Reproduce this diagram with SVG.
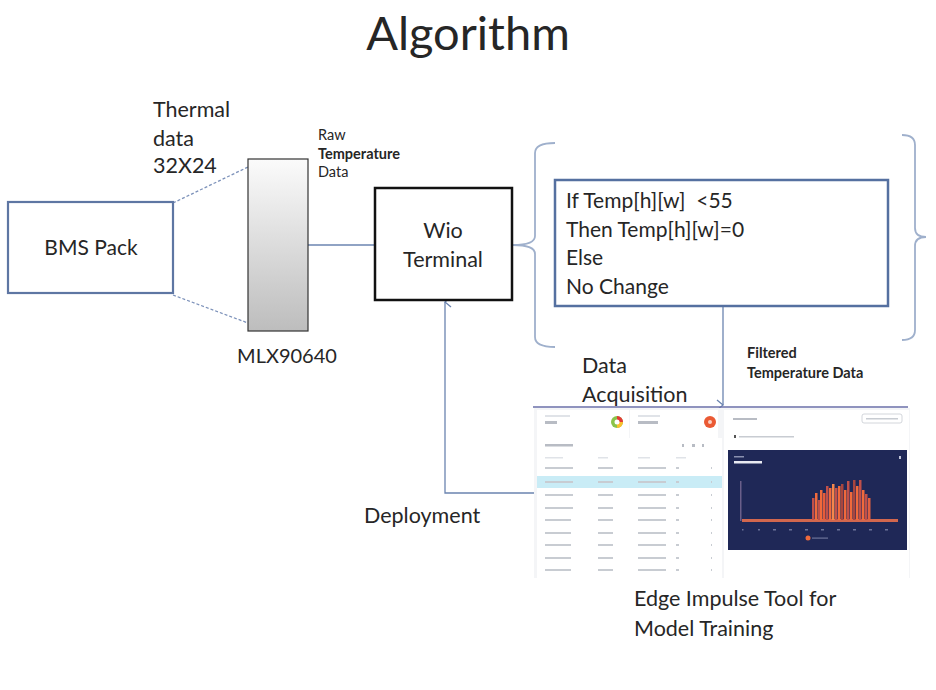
<svg xmlns="http://www.w3.org/2000/svg" width="936" height="690" viewBox="0 0 936 690">
<defs>
  <linearGradient id="mlxg" x1="0" y1="0" x2="0" y2="1">
    <stop offset="0" stop-color="#fbfbfb"/>
    <stop offset="1" stop-color="#bdbdbd"/>
  </linearGradient>
  <marker id="openArrow" viewBox="0 0 12 12" refX="6" refY="1" markerWidth="12" markerHeight="12" orient="auto-start-reverse" markerUnits="userSpaceOnUse">
    <path d="M1,7 L6,1 L11,7" fill="none" stroke="#6b84b0" stroke-width="1.3"/>
  </marker>
</defs>
<style>
  .t { font-family: Lato, "Liberation Sans", sans-serif; fill: #262626; }
  .lbl { font-size: 21.5px; }
  .sm { font-size: 14.5px; }
  .b { font-weight: bold; }
  .conn { fill: none; stroke: #6b84b0; stroke-width: 1.3; }
  .brace { fill: none; stroke: #9fb0cc; stroke-width: 1.8; }
  .bar { fill: #e0e3e8; }
</style>
<rect width="936" height="690" fill="#ffffff"/>

<text class="t" x="468" y="50" font-size="47" text-anchor="middle" fill="#111">Algorithm</text>

<g id="connectors">
  <line x1="173" y1="203" x2="248" y2="167" stroke="#7d92ba" stroke-width="1.3" stroke-dasharray="3,2"/>
  <line x1="173" y1="295" x2="248" y2="323" stroke="#7d92ba" stroke-width="1.3" stroke-dasharray="3,2"/>
  <line class="conn" x1="308" y1="245" x2="375" y2="245"/>
  <line class="conn" x1="723" y1="306" x2="723" y2="405" marker-end="url(#openArrow)"/>
  <polyline class="conn" points="535,493 445,493 445,302" marker-end="url(#openArrow)"/>
  <path class="brace" d="M555,143 Q535,143 535,153 L535,236 Q535,245 513,245 Q535,245 535,254 L535,337 Q535,347 555,347"/>
  <path class="brace" d="M902,135 Q915,135 915,145 L915,228 Q915,237 926,237 Q915,237 915,246 L915,330 Q915,340 902,340"/>
</g>

<g id="thermal-label">
  <text class="t lbl" x="153" y="117">Thermal</text>
  <text class="t lbl" x="153" y="146">data</text>
  <text class="t lbl" x="153" y="173">32X24</text>
</g>

<g id="bms-pack">
  <rect x="8" y="202" width="165" height="91" fill="#fff" stroke="#5e76a3" stroke-width="2.2"/>
  <text class="t" x="91" y="255" font-size="21" text-anchor="middle">BMS Pack</text>
</g>

<g id="mlx90640">
  <rect x="248" y="159" width="60" height="172" fill="url(#mlxg)" stroke="#333" stroke-width="1.2"/>
  <text class="t" x="287" y="363" font-size="20" text-anchor="middle">MLX90640</text>
</g>

<g id="raw-label">
  <text class="t sm" x="318" y="140">Raw</text>
  <text class="t sm b" x="318" y="159">Temperature</text>
  <text class="t sm" x="318" y="177">Data</text>
</g>

<g id="wio-terminal">
  <rect x="375" y="188" width="137" height="112" fill="#fff" stroke="#111" stroke-width="2.5"/>
  <text class="t lbl" x="443" y="238" text-anchor="middle">Wio</text>
  <text class="t lbl" x="443" y="267" text-anchor="middle">Terminal</text>
</g>

<g id="condition">
  <rect x="555" y="180" width="333" height="126" fill="#fff" stroke="#5570a0" stroke-width="2.5"/>
  <text class="t" font-size="21" x="566" y="208" xml:space="preserve">If Temp[h][w]  &lt;55</text>
  <text class="t" font-size="21" x="566" y="237">Then Temp[h][w]=0</text>
  <text class="t" font-size="21" x="566" y="265">Else</text>
  <text class="t" font-size="21" x="566" y="294">No Change</text>
</g>

<g id="filtered-label">
  <text class="t sm b" x="747" y="358">Filtered</text>
  <text class="t sm b" x="747" y="378">Temperature Data</text>
</g>

<g id="data-acq-label">
  <text class="t lbl" x="582" y="373">Data</text>
  <text class="t lbl" x="582" y="402">Acquisition</text>
</g>

<g id="deployment-label">
  <text class="t lbl" x="364" y="523">Deployment</text>
</g>

<g id="edge-impulse">
  <rect x="534" y="408" width="376" height="170" fill="#f4f5f7"/>
  <line x1="533" y1="407" x2="908" y2="407" stroke="#6a6fa8" stroke-width="1.3"/>
  <rect x="537" y="410" width="92" height="30" fill="#fff"/>
  <rect x="630" y="410" width="88" height="30" fill="#fff"/>
  <rect x="545" y="415" width="25" height="2" class="bar"/>
  <rect x="545" y="421" width="12" height="3" fill="#b8bcc4"/>
  <rect x="638" y="415" width="22" height="2" class="bar"/>
  <rect x="638" y="421" width="20" height="3" fill="#b8bcc4"/>
  <circle cx="617" cy="422" r="6" fill="#8bc34a"/>
  <path d="M617,416 A6,6 0 0 1 623,422 L617,422 Z" fill="#e53935"/>
  <path d="M623,422 A6,6 0 0 1 617,428 L617,422 Z" fill="#fbc02d"/>
  <circle cx="617" cy="422" r="2.5" fill="#fff"/>
  <circle cx="710" cy="422" r="6" fill="#ea5a34"/>
  <circle cx="710" cy="422" r="2" fill="#fbd0c2"/>
  <rect x="537" y="438" width="185" height="140" fill="#fff"/>
  <rect x="545" y="444" width="28" height="2.5" fill="#b8bcc4"/>
  <rect x="682" y="444" width="2" height="3" fill="#b8bcc4"/>
  <rect x="692" y="444" width="3" height="3" fill="#b8bcc4"/>
  <rect x="702" y="444" width="2" height="3" fill="#b8bcc4"/>
  <rect x="545" y="457" width="18" height="1.5" class="bar"/>
  <rect x="598" y="457" width="10" height="1.5" class="bar"/>
  <rect x="638" y="457" width="12" height="1.5" class="bar"/>
  <rect x="676" y="457" width="10" height="1.5" class="bar"/>
  <rect x="537" y="476" width="185" height="12" fill="#c9ecf6"/>
  <g fill="#c8ccd2">
    <rect x="545" y="467" width="28" height="2"/><rect x="598" y="467" width="15" height="2"/><rect x="638" y="467" width="28" height="2"/><rect x="676" y="467" width="3" height="2"/><rect x="711" y="467" width="1" height="2"/>
    <rect x="545" y="481" width="28" height="2"/><rect x="598" y="481" width="15" height="2"/><rect x="638" y="481" width="28" height="2"/><rect x="676" y="481" width="3" height="2"/><rect x="711" y="481" width="1" height="2"/>
    <rect x="545" y="494" width="28" height="2"/><rect x="598" y="494" width="15" height="2"/><rect x="638" y="494" width="28" height="2"/><rect x="676" y="494" width="3" height="2"/><rect x="711" y="494" width="1" height="2"/>
    <rect x="545" y="507" width="28" height="2"/><rect x="598" y="507" width="15" height="2"/><rect x="638" y="507" width="28" height="2"/><rect x="676" y="507" width="3" height="2"/><rect x="711" y="507" width="1" height="2"/>
    <rect x="545" y="519" width="26" height="2"/><rect x="598" y="519" width="15" height="2"/><rect x="638" y="519" width="28" height="2"/><rect x="676" y="519" width="3" height="2"/><rect x="711" y="519" width="1" height="2"/>
    <rect x="545" y="532" width="26" height="2"/><rect x="598" y="532" width="15" height="2"/><rect x="638" y="532" width="28" height="2"/><rect x="676" y="532" width="3" height="2"/><rect x="711" y="532" width="1" height="2"/>
    <rect x="545" y="544" width="26" height="2"/><rect x="598" y="544" width="15" height="2"/><rect x="638" y="544" width="28" height="2"/><rect x="676" y="544" width="3" height="2"/><rect x="711" y="544" width="1" height="2"/>
    <rect x="545" y="557" width="26" height="2"/><rect x="598" y="557" width="15" height="2"/><rect x="638" y="557" width="28" height="2"/><rect x="676" y="557" width="3" height="2"/><rect x="711" y="557" width="1" height="2"/>
    <rect x="545" y="569" width="26" height="2"/><rect x="598" y="569" width="15" height="2"/><rect x="638" y="569" width="28" height="2"/><rect x="676" y="569" width="3" height="2"/><rect x="711" y="569" width="1" height="2"/>
  </g>
  <rect x="724" y="410" width="185" height="168" fill="#fff"/>
  <rect x="733" y="418" width="24" height="2" fill="#b8bcc4"/>
  <rect x="862" y="414" width="40" height="9" rx="2" fill="#fff" stroke="#c8ccd2" stroke-width="0.8"/>
  <rect x="866" y="418" width="32" height="1.5" fill="#c8ccd2"/>
  <rect x="734" y="435" width="2" height="3" fill="#555"/>
  <rect x="739" y="436" width="55" height="1.5" fill="#c8ccd2"/>
  <rect x="728" y="450" width="179" height="100" fill="#1f2857"/>
  <rect x="734" y="456" width="10" height="1.5" fill="#8a90b0"/>
  <rect x="734" y="461" width="28" height="2.5" fill="#e8eaf2"/>
  <rect x="899" y="456" width="2" height="3" fill="#c0c4d8"/>
  <rect x="740" y="481" width="1.5" height="40" fill="#6a5f8a"/>
  <rect x="742" y="519" width="156" height="3" fill="#d2674e"/>
  <g>
    <rect x="812" y="498" width="2.5" height="22" fill="#c0504a"/>
    <rect x="815" y="493" width="2.5" height="27" fill="#f06a3c"/>
    <rect x="818" y="500" width="2.5" height="20" fill="#c0504a"/>
    <rect x="820" y="490" width="2.5" height="30" fill="#f06a3c"/>
    <rect x="823" y="493" width="2.5" height="27" fill="#e75c3a"/>
    <rect x="826" y="486" width="2.5" height="34" fill="#c0504a"/>
    <rect x="829" y="488" width="2.5" height="32" fill="#f06a3c"/>
    <rect x="832" y="484" width="2.5" height="36" fill="#f4874c"/>
    <rect x="835" y="488" width="2.5" height="32" fill="#c0504a"/>
    <rect x="838" y="486" width="2.5" height="34" fill="#f06a3c"/>
    <rect x="841" y="484" width="2.5" height="36" fill="#a8453f"/>
    <rect x="844" y="490" width="2.5" height="30" fill="#f06a3c"/>
    <rect x="847" y="481" width="2.5" height="39" fill="#c0504a"/>
    <rect x="850" y="492" width="2.5" height="28" fill="#f06a3c"/>
    <rect x="853" y="480" width="2.5" height="40" fill="#a8453f"/>
    <rect x="856" y="486" width="2.5" height="34" fill="#f06a3c"/>
    <rect x="859" y="480" width="2.5" height="40" fill="#c0504a"/>
    <rect x="862" y="490" width="2.5" height="30" fill="#f06a3c"/>
    <rect x="865" y="494" width="2.5" height="26" fill="#c0504a"/>
    <rect x="868" y="498" width="2.5" height="22" fill="#e06040"/>
  </g>
  <g fill="#6d7399">
    <rect x="742" y="529" width="1.5" height="1.5"/><rect x="758" y="529" width="2" height="1.5"/><rect x="773" y="529" width="3" height="1.5"/><rect x="789" y="529" width="3" height="1.5"/><rect x="805" y="529" width="3" height="1.5"/><rect x="821" y="529" width="3" height="1.5"/><rect x="837" y="529" width="3" height="1.5"/><rect x="853" y="529" width="3" height="1.5"/><rect x="869" y="529" width="3" height="1.5"/><rect x="885" y="529" width="3" height="1.5"/>
  </g>
  <circle cx="808" cy="538" r="2.5" fill="#f06a3c"/>
  <rect x="812" y="537.5" width="16" height="1.2" fill="#6d7399"/>
</g>

<g id="edge-impulse-label">
  <text class="t lbl" x="634" y="606">Edge Impulse Tool for</text>
  <text class="t lbl" x="634" y="636">Model Training</text>
</g>
</svg>
